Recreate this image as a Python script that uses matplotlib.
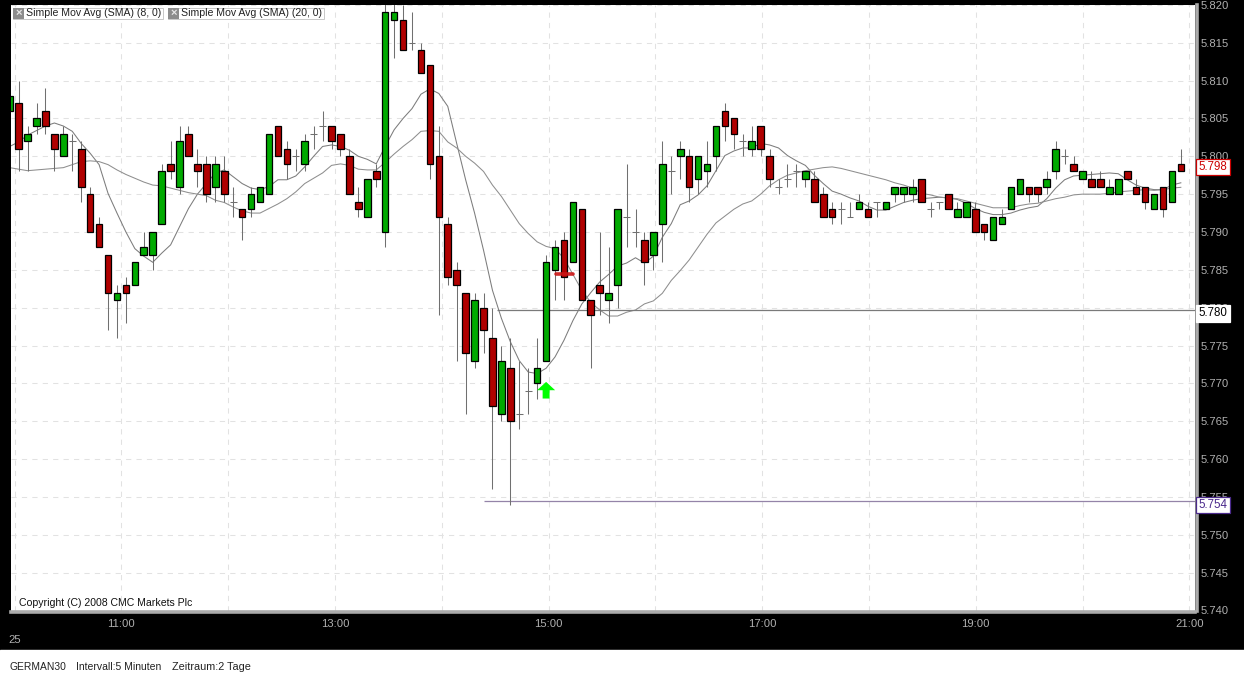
import numpy as np
import matplotlib
matplotlib.use('Agg')
import matplotlib.pyplot as plt

plt.rcParams['font.family'] = ['Liberation Sans', 'DejaVu Sans']

# data (index points)
bar_open = [5806,5807,5802,5804,5806,5803,5800,5802,5801,5795,
            5791,5787,5781,5783,5783,5787,5787,5791,5799,5796,
            5803,5799,5799,5796,5798,5794,5793,5793,5794,5795,
            5804,5801,5800,5799,5803,5804,5804,5803,5800,5794,
            5792,5798,5790,5818,5818,5815,5814,5812,5800,5791,
            5785,5782,5773,5780,5776,5766,5772,5766,5769,5770,
            5773,5785,5789,5786,5793,5781,5783,5781,5783,5792,
            5790,5789,5787,5791,5798,5800,5800,5797,5798,5800,
            5806,5805,5802,5801,5804,5800,5796,5797,5798,5797,
            5797,5795,5793,5793,5792,5793,5793,5794,5793,5795,
            5795,5795,5797,5793,5794,5795,5792,5792,5793,5791,
            5789,5791,5793,5795,5796,5796,5796,5798,5800,5799,
            5797,5797,5797,5795,5795,5798,5796,5796,5793,5796,
            5794,5799]
bar_close = [5808,5801,5803,5805,5804,5801,5803,5802,5796,5790,
             5788,5782,5782,5782,5786,5788,5790,5798,5798,5802,
             5800,5798,5795,5799,5795,5794,5792,5795,5796,5803,
             5800,5799,5800,5802,5803,5804,5802,5801,5795,5793,
             5797,5797,5819,5819,5814,5815,5811,5799,5792,5784,
             5783,5774,5781,5777,5767,5773,5765,5766,5769,5772,
             5786,5788,5784,5794,5781,5779,5782,5782,5793,5792,
             5790,5786,5790,5799,5798,5801,5796,5800,5799,5804,
             5804,5803,5802,5802,5801,5797,5796,5797,5798,5798,
             5794,5792,5792,5793,5792,5794,5792,5794,5794,5796,
             5796,5796,5794,5793,5794,5793,5793,5794,5790,5790,
             5792,5792,5796,5797,5795,5795,5797,5801,5800,5798,
             5798,5796,5796,5796,5797,5797,5795,5794,5795,5793,
             5798,5798]
bar_high = [5808,5810,5804,5807,5809,5803,5804,5803,5802,5796,
            5792,5787,5783,5784,5786,5790,5790,5799,5802,5804,
            5804,5801,5800,5800,5800,5796,5793,5796,5796,5803,
            5804,5802,5801,5803,5804,5806,5804,5803,5801,5796,
            5797,5799,5821,5821,5820,5819,5815,5812,5804,5792,
            5786,5782,5782,5782,5780,5775,5776,5773,5772,5776,
            5787,5789,5790,5794,5793,5781,5790,5788,5793,5799,
            5793,5790,5790,5802,5800,5802,5801,5800,5802,5804,
            5807,5805,5803,5804,5804,5801,5797,5799,5799,5798,
            5798,5796,5794,5794,5794,5795,5794,5794,5794,5796,
            5796,5797,5797,5794,5794,5795,5794,5794,5794,5791,
            5792,5793,5796,5797,5796,5796,5798,5802,5801,5800,
            5798,5798,5798,5797,5797,5798,5797,5796,5795,5796,
            5798,5801]
bar_low = [5806,5798,5798,5803,5803,5798,5800,5798,5794,5790,
           5788,5777,5776,5778,5783,5787,5785,5791,5797,5795,
           5800,5796,5794,5794,5794,5792,5789,5792,5794,5795,
           5800,5797,5798,5798,5801,5802,5801,5800,5795,5792,
           5792,5796,5788,5813,5814,5814,5811,5797,5779,5783,
           5773,5766,5772,5774,5756,5765,5754,5764,5766,5768,
           5773,5781,5781,5786,5781,5772,5779,5778,5780,5788,
           5788,5783,5785,5786,5795,5797,5794,5795,5796,5798,
           5802,5801,5800,5800,5800,5796,5795,5796,5796,5796,
           5794,5792,5791,5791,5792,5793,5792,5792,5793,5794,
           5794,5794,5794,5792,5793,5793,5792,5792,5790,5789,
           5789,5791,5793,5795,5794,5794,5795,5797,5799,5798,
           5797,5796,5796,5795,5795,5797,5795,5793,5793,5792,
           5794,5798]

sma8 = [5801.3,5801.9,5802.8,5803.4,5804.0,5804.4,5804.0,5803.3,5801.7,5800.4,
        5798.9,5795.1,5792.5,5790.0,5787.8,5786.8,5786.0,5787.2,5788.3,5790.7,
        5793.1,5795.0,5796.4,5797.8,5798.2,5797.3,5796.4,5795.8,5795.6,5796.0,
        5796.9,5796.9,5797.4,5798.6,5800.0,5801.3,5801.5,5801.3,5800.8,5800.0,
        5799.6,5799.0,5801.3,5803.5,5805.0,5806.3,5808.2,5808.9,5808.3,5806.6,
        5801.7,5796.9,5792.5,5787.6,5782.3,5778.6,5775.5,5773.0,5771.5,5771.3,
        5772.0,5773.5,5775.7,5778.3,5780.5,5782.0,5783.4,5784.4,5785.5,5785.9,
        5786.6,5785.9,5786.8,5789.3,5791.1,5793.6,5794.1,5794.9,5796.1,5798.1,
        5800.1,5800.7,5801.1,5801.1,5801.7,5801.5,5801.1,5800.1,5799.4,5798.8,
        5797.5,5796.4,5795.4,5795.0,5794.5,5794.1,5793.4,5792.9,5792.9,5793.4,
        5793.9,5794.2,5794.4,5794.5,5794.6,5794.5,5794.3,5793.8,5793.1,5792.6,
        5792.3,5792.3,5792.5,5792.9,5793.2,5793.4,5794.4,5795.8,5796.9,5797.4,
        5797.5,5797.6,5797.7,5797.8,5797.7,5796.9,5796.2,5795.8,5795.6,5795.6,
        5796.2,5796.5]
sma20 = [5798.5,5798.3,5798.1,5798.2,5798.3,5798.4,5798.5,5798.9,5799.3,5799.4,
         5799.3,5798.9,5798.2,5797.6,5797.1,5796.6,5796.2,5796.1,5795.8,5795.5,
         5795.2,5795.0,5794.8,5794.2,5793.9,5793.3,5792.8,5792.5,5792.5,5793.1,
         5793.7,5794.4,5795.3,5796.4,5797.1,5797.8,5798.8,5799.0,5798.8,5798.3,
         5798.2,5798.2,5799.2,5800.3,5801.3,5802.2,5803.3,5803.4,5803.3,5801.9,
         5801.1,5800.0,5799.1,5798.0,5796.2,5794.7,5792.9,5791.1,5789.8,5788.7,
         5788.1,5787.8,5786.5,5784.4,5782.3,5780.7,5779.7,5778.9,5778.9,5779.4,
         5779.7,5780.5,5780.9,5781.9,5783.6,5784.9,5786.3,5788.0,5789.7,5791.2,
         5792.1,5793.0,5793.7,5794.1,5795.0,5796.1,5796.9,5797.5,5797.8,5798.1,
         5798.3,5798.5,5798.6,5798.4,5798.1,5797.8,5797.5,5797.2,5796.9,5796.5,
         5796.2,5795.8,5795.1,5794.9,5794.6,5794.5,5794.4,5794.1,5793.8,5793.5,
         5793.2,5793.2,5793.2,5793.5,5793.7,5793.8,5794.1,5794.4,5794.6,5794.9,
         5795.0,5795.0,5795.0,5795.1,5795.3,5795.4,5795.5,5795.6,5795.5,5795.6,
         5795.8,5795.9]

price_ticks = list(range(5740, 5825, 5))
price_labels = ['5.740','5.745','5.750','5.755','5.760','5.765','5.770','5.775','5.780',
                '5.785','5.790','5.795','5.800','5.805','5.810','5.815','5.820']
hour_labels = ['','11:00','','13:00','','15:00','','17:00','','19:00','','21:00']

W, H = 1244, 675
fig = plt.figure(figsize=(W/100, H/100), dpi=100, facecolor='black')

# white strip at the bottom of the window
fig.patches.append(plt.Rectangle((0, 0), 1, 25/H, transform=fig.transFigure, color='white'))

L, R, T, B = 10.5, 1195, 4.9, 610.5
ax = fig.add_axes([L/W, 1-B/H, (R-L)/W, (B-T)/H], facecolor='white')

x0, dx = 9.7, 8.94   # pixel of first bar, pixels per bar
ax.set_xlim((L-x0)/dx, (R-x0)/dx)
ax.set_ylim(5740, 5820)

x = np.arange(len(bar_open))
o, c, h, l = map(np.array, (bar_open, bar_close, bar_high, bar_low))

# grid
hour_pos = [(14.5 + 106.8*k - x0)/dx for k in range(12)]
ax.set_xticks(hour_pos)
ax.set_xticklabels(hour_labels)
ax.set_yticks(price_ticks)
ax.set_yticklabels(price_labels)
ax.yaxis.tick_right()
ax.tick_params(length=0, colors='#b0b0b0', labelsize=8.1)
ax.tick_params(axis='y', pad=3)
ax.tick_params(axis='x', pad=5)
ax.grid(True, color='#e2e2e2', lw=0.75, ls=(0, (5, 5)))
ax.set_axisbelow(True)
for s in ('left', 'top'):
    ax.spines[s].set_visible(False)
for s in ('right', 'bottom'):
    ax.spines[s].set_color('#ababab')
    ax.spines[s].set_linewidth(2.6)
    ax.spines[s].set_position(('outward', 1.3))

# moving averages and trend lines lie behind the candles
ax.plot(x, sma8, color='#7c7c7c', lw=0.75, zorder=1.5)
ax.plot(x, sma20, color='#8e8e8e', lw=0.75, zorder=1.5)
ax.hlines(5779.7, 54.5, 133, color='#7a7a7a', lw=0.9, zorder=1.5)
ax.hlines(5754.4, 53, 133, color='#9484a8', lw=0.9, zorder=1.5)

# candles
ax.vlines(x, l, h, color='#707070', lw=0.75, zorder=2)
up = c > o
down = c < o
flat = c == o
ax.hlines(c[flat], x[flat]-0.38, x[flat]+0.38, color='#707070', lw=0.75, zorder=2)
ax.bar(x[up], (c-o)[up], bottom=o[up], width=0.74, color='#00aa00', edgecolor='black', lw=0.9, zorder=3)
ax.bar(x[down], (o-c)[down], bottom=c[down], width=0.74, color='#b00000', edgecolor='black', lw=0.9, zorder=3)

# signal arrows
ax.annotate('', xy=(60, 5770.2), xytext=(60, 5768),
            arrowprops=dict(facecolor='#00ff00', edgecolor='none', width=5, headwidth=13, headlength=6, shrink=0), zorder=5)
ax.plot([61.1, 63], [5784.4, 5784.4], color='#cc1515', lw=2.6, solid_capstyle='round', alpha=0.9, zorder=5)

# legend boxes
def legend_box(px, wid, txt):
    fig.patches.append(plt.Rectangle((px/W, 1-18.5/H), wid/W, 10.5/H, transform=fig.transFigure,
                                     facecolor='white', edgecolor='#c8c8c8', lw=0.7, zorder=6))
    fig.patches.append(plt.Rectangle((px/W, 1-18.5/H), 11/W, 10.5/H, transform=fig.transFigure,
                                     facecolor='#8c8c8c', edgecolor='none', zorder=6))
    fig.text((px+5.5)/W, 1-13.3/H, '×', color='#e8e8e8', fontsize=8, fontweight='bold',
             ha='center', va='center', zorder=7)
    fig.text((px+13)/W, 1-13.3/H, txt, color='#222222', fontsize=7.6, va='center', zorder=7)

legend_box(13, 150, 'Simple Mov Avg (SMA) (8, 0)')
legend_box(168, 156, 'Simple Mov Avg (SMA) (20, 0)')

# price flags on the axis
def flag(py, txt, col, edge):
    fig.text(1198.5/W, 1-py/H, txt, color=col, fontsize=8.3, va='center', ha='left', zorder=8,
             bbox=dict(boxstyle='square,pad=0.2', facecolor='white', edgecolor=edge, lw=0.9))

flag(167, '5.798', '#cc0000', '#cc0000')
flag(313.5, '5.780', 'black', 'white')
flag(505, '5.754', '#4b2a8c', '#4b2a8c')

fig.text(19/W, 1-602.5/H, 'Copyright (C) 2008 CMC Markets Plc', color='#111111', fontsize=7.6, va='center')
fig.text(8/W, 1-640/H, '25', color='#b0b0b0', fontsize=8.1, va='center')
fig.text(10/W, 1-666.5/H, 'GERMAN30', color='#222222', fontsize=7.4, va='center')
fig.text(76/W, 1-666.5/H, 'Intervall:5 Minuten', color='#222222', fontsize=7.5, va='center')
fig.text(172/W, 1-666.5/H, 'Zeitraum:2 Tage', color='#222222', fontsize=7.8, va='center')

fig.savefig('out.png', dpi=100, facecolor='black')
